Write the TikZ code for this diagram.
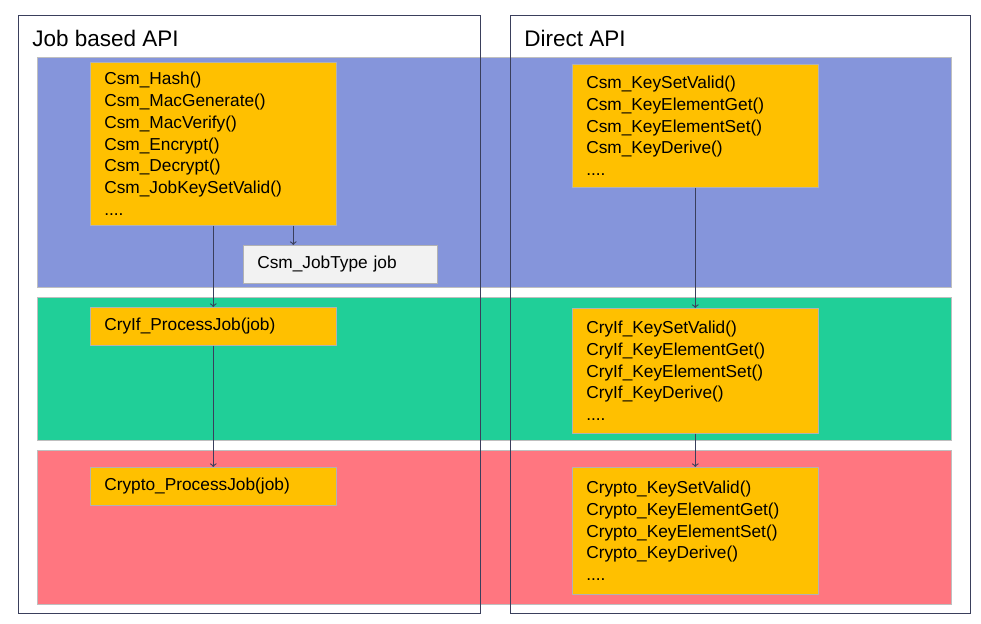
\documentclass[tikz,border=0pt]{standalone}
\usepackage{fontspec}
\setmainfont{Liberation Sans}
\usetikzlibrary{positioning, calc}
\definecolor{bandblue}{HTML}{8595DB}
\definecolor{bandgreen}{HTML}{20CF98}
\definecolor{bandred}{HTML}{FF7680}
\definecolor{boxorange}{HTML}{FFC000}
\definecolor{linenavy}{HTML}{3A3F5C}
\newcommand\pxu{0.025cm}
\tikzset{
    band/.style={draw=black!25, anchor=north west, inner sep=0pt, minimum width=914*\pxu},
    frame/.style={draw=linenavy, thick, anchor=north west, inner sep=0pt, minimum width=462*\pxu, minimum height=598*\pxu},
    apibox/.style={draw=black!30, fill=boxorange, anchor=north west, minimum width=246*\pxu, text width=218*\pxu, inner xsep=14*\pxu, inner ysep=0pt, align=left, font=\fontsize{12.3}{15.6}\selectfont},
    title/.style={anchor=west, inner sep=0pt, font=\fontsize{16}{18}\selectfont},
    flow/.style={-to, draw=linenavy, thick}
}
\begin{document}
\begin{tikzpicture}[x=\pxu, y=-\pxu]
\useasboundingbox (0,0) rectangle (981,624);
\fill[white] (0,0) rectangle (981,624);

\node[band, fill=bandblue, minimum height=230*\pxu] (blue) at (37,57) {};
\node[band, fill=bandgreen, minimum height=143*\pxu] (green) at (37,297) {};
\node[band, fill=bandred, minimum height=154*\pxu] (red) at (37,450) {};

\node[frame] (jobframe) at (18,15) {};
\node[frame, minimum width=460*\pxu] (directframe) at (510,15) {};
\node[title] (jobtitle) at (32,38) {Job based API};
\node[title] (directtitle) at (524,38) {Direct API};

% job based side
\node[apibox, minimum height=163*\pxu] (csmjob) at (90,62) {Csm\_Hash()\\Csm\_MacGenerate()\\Csm\_MacVerify()\\Csm\_Encrypt()\\Csm\_Decrypt()\\Csm\_JobKeySetValid()\\....};
\node[apibox, fill=black!5, minimum width=194*\pxu, text width=166*\pxu, minimum height=38*\pxu] (jobtype) at (243,245) {Csm\_JobType job};
\node[apibox, minimum height=38*\pxu] (cryifjob) at (90,307) {CryIf\_ProcessJob(job)};
\node[apibox, minimum height=38*\pxu] (cryptojob) at (90,467) {Crypto\_ProcessJob(job)};

% direct side
\node[apibox, minimum height=123*\pxu] (csmdirect) at (572,64) {Csm\_KeySetValid()\\Csm\_KeyElementGet()\\Csm\_KeyElementSet()\\Csm\_KeyDerive()\\....};
\node[apibox, minimum height=125*\pxu] (cryifdirect) at (572,308) {CryIf\_KeySetValid()\\CryIf\_KeyElementGet()\\CryIf\_KeyElementSet()\\CryIf\_KeyDerive()\\....};
\node[apibox, minimum height=127*\pxu] (cryptodirect) at (572,467) {Crypto\_KeySetValid()\\Crypto\_KeyElementGet()\\Crypto\_KeyElementSet()\\Crypto\_KeyDerive()\\....};

\coordinate (jobsplit) at ($(csmjob.south)+(80,0)$);
\draw[flow] (csmjob.south) -- (cryifjob.north);
\draw[flow] (cryifjob.south) -- (cryptojob.north);
\draw[flow] (jobsplit) -- (jobsplit |- jobtype.north);
\draw[flow] (csmdirect.south) -- (cryifdirect.north);
\draw[flow] (cryifdirect.south) -- (cryptodirect.north);
\end{tikzpicture}
\end{document}
